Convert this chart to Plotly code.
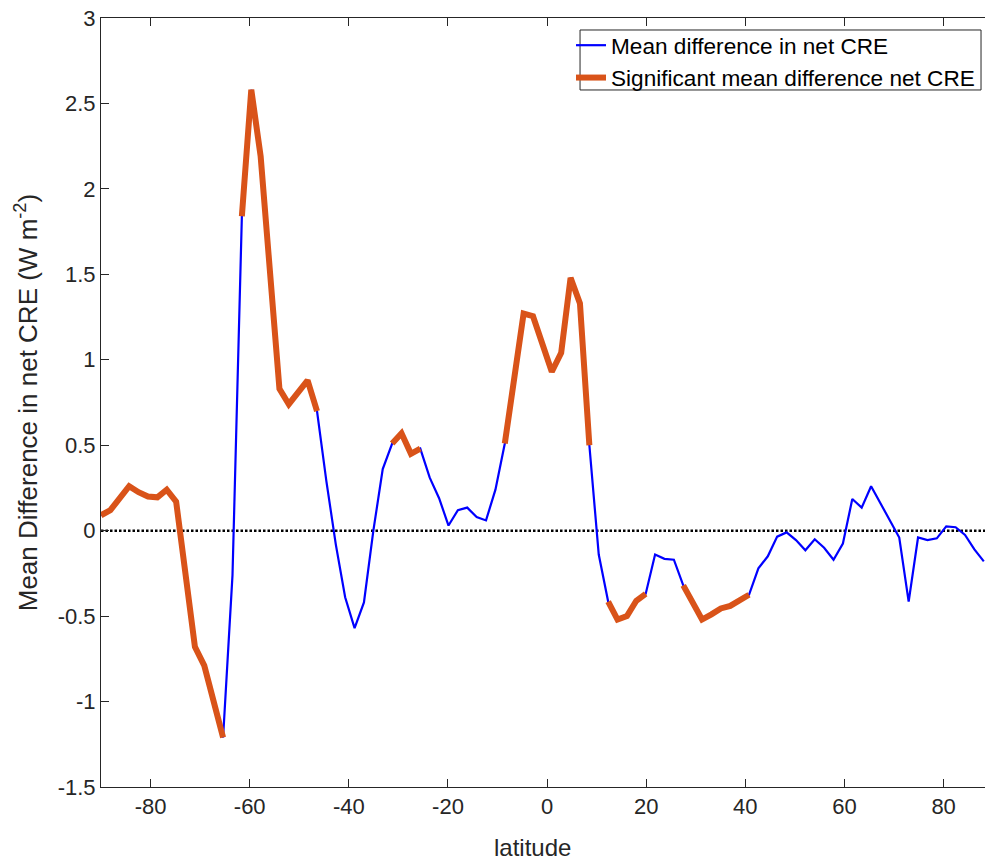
import plotly.graph_objects as go

# Latitude grid (degrees)
latitude = [
    -90.00, -88.11, -86.21, -84.32, -82.42, -80.53, -78.63, -76.74, -74.84, -72.95,
    -71.05, -69.16, -67.26, -65.37, -63.47, -61.58, -59.68, -57.79, -55.89, -54.00,
    -52.11, -50.21, -48.32, -46.42, -44.53, -42.63, -40.74, -38.84, -36.95, -35.05,
    -33.16, -31.26, -29.37, -27.47, -25.58, -23.68, -21.79, -19.89, -18.00, -16.11,
    -14.21, -12.32, -10.42, -8.53, -6.63, -4.74, -2.84, -0.95, 0.95, 2.84,
    4.74, 6.63, 8.53, 10.42, 12.32, 14.21, 16.11, 18.00, 19.89, 21.79,
    23.68, 25.58, 27.47, 29.37, 31.26, 33.16, 35.05, 36.95, 38.84, 40.74,
    42.63, 44.53, 46.42, 48.32, 50.21, 52.11, 54.00, 55.89, 57.79, 59.68,
    61.58, 63.47, 65.37, 67.26, 69.16, 71.05, 72.95, 74.84, 76.74, 78.63,
    80.53, 82.42, 84.32, 86.21, 88.11,
]

# Zonal mean difference in net cloud radiative effect (W m-2)
cre_diff = [
    0.09, 0.12, 0.19, 0.26, 0.225, 0.20, 0.195, 0.24, 0.17, -0.27,
    -0.68, -0.79, -1.00, -1.21, -0.26, 1.84, 2.58, 2.19, 1.47, 0.83,
    0.74, 0.81, 0.88, 0.70, 0.29, -0.08, -0.39, -0.57, -0.42, 0.00,
    0.36, 0.51, 0.57, 0.45, 0.48, 0.31, 0.19, 0.03, 0.12, 0.135,
    0.08, 0.06, 0.24, 0.51, 0.90, 1.27, 1.255, 1.08, 0.93, 1.04,
    1.48, 1.33, 0.50, -0.14, -0.415, -0.52, -0.50, -0.41, -0.37, -0.14,
    -0.165, -0.17, -0.32, -0.425, -0.52, -0.49, -0.455, -0.44, -0.405, -0.375,
    -0.22, -0.15, -0.035, -0.01, -0.055, -0.115, -0.05, -0.10, -0.17, -0.075,
    0.185, 0.135, 0.26, 0.16, 0.065, -0.04, -0.415, -0.04, -0.055, -0.045,
    0.025, 0.02, -0.025, -0.11, -0.18,
]

# Latitudes where the difference is statistically significant
significant = (
    [True] * 14 + [False] + [True] * 9 + [False] * 7 + [True] * 4
    + [False] * 8 + [True] * 10 + [False] + [True] * 5 + [False] * 3
    + [True] * 8 + [False] * 25
)

x_tick_vals = [-80, -60, -40, -20, 0, 20, 40, 60, 80]
x_tick_text = ["-80", "-60", "-40", "-20", "0", "20", "40", "60", "80"]
y_tick_vals = [-1.5, -1, -0.5, 0, 0.5, 1, 1.5, 2, 2.5, 3]
y_tick_text = ["-1.5", "-1", "-0.5", "0", "0.5", "1", "1.5", "2", "2.5", "3"]

sig_values = [v if s else None for v, s in zip(cre_diff, significant)]

FONT = "Arial, Liberation Sans, Helvetica, sans-serif"
AXCOL = "#262626"

fig = go.Figure()
fig.add_trace(go.Scatter(
    x=latitude, y=cre_diff, mode="lines",
    name="Mean difference in net CRE",
    line=dict(color="#0000FF", width=2.2),
))
fig.add_trace(go.Scatter(
    x=latitude, y=sig_values, mode="lines",
    name="Significant mean difference net CRE",
    line=dict(color="#D95319", width=6),
    connectgaps=False,
))

# dotted zero reference line
fig.add_shape(type="line", xref="paper", x0=0, x1=1, yref="y", y0=0, y1=0,
              line=dict(color="black", width=2.5, dash="2.5px,2px"), layer="below")

# legend frame
fig.add_shape(type="rect", xref="paper", yref="paper",
              x0=0.5419, x1=0.9955, y0=0.9064, y1=0.9844,
              line=dict(color=AXCOL, width=1), fillcolor="white", layer="above")

fig.update_layout(
    width=985, height=863,
    margin=dict(l=101, r=0, t=18, b=76),
    paper_bgcolor="white", plot_bgcolor="white",
    font=dict(family=FONT, size=22, color=AXCOL),
    showlegend=True,
    legend=dict(
        x=0.5317, xanchor="left", y=0.9922, yanchor="top",
        bgcolor="rgba(0,0,0,0)", borderwidth=0,
        font=dict(family=FONT, size=22.6, color="black"),
        tracegroupgap=0, itemwidth=30,
    ),
    xaxis=dict(
        range=[-90, 88.35], tickvals=x_tick_vals, ticktext=x_tick_text,
        ticks="inside", ticklen=8, tickcolor=AXCOL, tickwidth=1,
        showline=True, linecolor=AXCOL, linewidth=1, mirror="ticks",
        showgrid=False, zeroline=False,
        tickfont=dict(family=FONT, size=22, color=AXCOL),
    ),
    yaxis=dict(
        range=[-1.5, 3], tickvals=y_tick_vals, ticktext=y_tick_text,
        ticks="inside", ticklen=8, tickcolor=AXCOL, tickwidth=1,
        showline=True, linecolor=AXCOL, linewidth=1, mirror=False,
        showgrid=False, zeroline=False,
        tickfont=dict(family=FONT, size=22, color=AXCOL),
    ),
    annotations=[
        dict(text="Mean Difference in net CRE (W m<sup>-2</sup>)",
             xref="paper", yref="paper", x=-0.084, y=0.5,
             xanchor="center", yanchor="middle", textangle=-90,
             showarrow=False, font=dict(family=FONT, size=26, color=AXCOL)),
        dict(text="latitude",
             xref="paper", yref="paper", x=0.4876, y=-0.079,
             xanchor="center", yanchor="middle",
             showarrow=False, font=dict(family=FONT, size=24, color=AXCOL)),
    ],
)

fig.write_html("out.html")
